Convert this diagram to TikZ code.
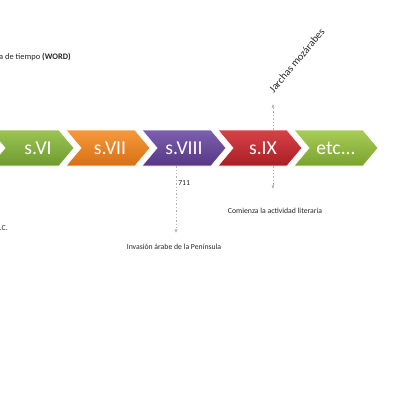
\documentclass[tikz,border=0pt]{standalone}
\usepackage{fontspec}
\setmainfont{Carlito}
\usetikzlibrary{shapes.symbols}
\usetikzlibrary{arrows.meta}
\definecolor{leafA}{HTML}{9CC455}
\definecolor{leafB}{HTML}{6E9A2E}
\definecolor{amberA}{HTML}{F59A3C}
\definecolor{amberB}{HTML}{D86F14}
\definecolor{plumA}{HTML}{7D5FAF}
\definecolor{plumB}{HTML}{553785}
\definecolor{rubyA}{HTML}{D84247}
\definecolor{rubyB}{HTML}{A81E24}
\definecolor{limeA}{HTML}{A8CC58}
\definecolor{limeB}{HTML}{79A32C}
\tikzset{era/.style = {signal, signal from=west, signal to=east,
                       signal pointer angle=100, minimum width=21mm,
                       minimum height=9mm, inner sep=0, draw=white, thin,
                       text=white, font=\fontsize{14}{14}\selectfont}}
\tikzset{guide/.style = {draw=gray!60, dash pattern=on 1pt off 1.4pt, line width=0.4pt}}
\tikzset{tip/.style = {-{Latex[length=2.5pt, width=2.2pt]}}}
\tikzset{note/.style = {font=\fontsize{5.5}{6}\selectfont, text=black!85, inner sep=0}}

\begin{document}
\begin{tikzpicture}[x=0.25mm, y=-0.25mm]
      \useasboundingbox (0, 0) rectangle (400, 400);
      \clip (0, 0) rectangle (400, 400);

      \node [note, anchor=east, font=\fontsize{6}{7}\selectfont] (title) at (71, 57) {Línea de tiempo \textbf{(WORD)}};
      \node [note, anchor=east] (era0) at (8, 228) {d.C.};

      \node [era, top color=leafA, bottom color=leafB] (vi) at (32, 148) {\hspace{3mm}s.VI};
      \node [era, top color=amberA, bottom color=amberB] (vii) at (108, 148) {\hspace{1mm}s.VII};
      \node [era, top color=plumA, bottom color=plumB] (viii) at (184, 148) {s.VIII};
      \node [era, top color=rubyA, bottom color=rubyB] (ix) at (260, 148) {\hspace{1.5mm}s.IX};
      \node [era, top color=limeA, bottom color=limeB] (etc) at (336, 148) {etc...};

      \coordinate (inv) at (176, 233);
      \coordinate (jar) at (273, 104);
      \coordinate (lit) at (273, 189);

      \draw [guide, tip] (viii.south -| inv) -- (inv);
      \node [note, anchor=west] (year) at (178, 183) {711};
      \node [note, anchor=north] (invtxt) at (174, 244) {Invasión árabe de la Península};

      \draw [guide, tip] (ix.north -| jar) -- (jar);
      \node [note, anchor=south west, rotate=50, font=\fontsize{7.5}{8}\selectfont] (jartxt) at (274, 94) {Jarchas mozárabes};

      \draw [guide, tip] (ix.south -| lit) -- (lit);
      \node [note, anchor=north] (littxt) at (275, 208) {Comienza la actividad literaria};
\end{tikzpicture}
\end{document}
